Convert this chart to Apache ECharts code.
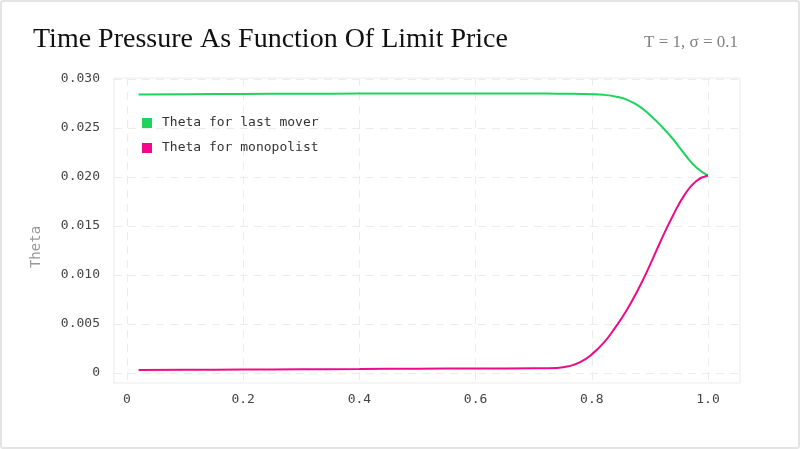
<!DOCTYPE html>
<html>
<head>
<meta charset="utf-8">
<script src="https://cdn.jsdelivr.net/npm/echarts@6/dist/echarts.min.js"></script>
<style>
    html, body { margin: 0; padding: 0; background: #fff; }
    #frame { width: 800px; height: 449px; box-sizing: border-box; border: 2px solid #e4e4e4; border-radius: 3px; }
    #chart { width: 796px; height: 445px; }
</style>
</head>
<body>
<div id="frame"><div id="chart"></div></div>
<script>
document.addEventListener('DOMContentLoaded', function() {

    // Data ------------------------------------------------------------
    const limitPrice = [0.02, 0.1, 0.2, 0.3, 0.4, 0.5, 0.6, 0.7, 0.74, 0.76, 0.78, 0.8, 0.82, 0.84, 0.86, 0.88, 0.9, 0.92, 0.94, 0.96, 0.98, 1.0];
    const thetaLastMover = [0.02842, 0.02844, 0.02847, 0.02849, 0.02851, 0.02852, 0.02852, 0.02851, 0.0285, 0.02849, 0.02847, 0.02845, 0.02838, 0.02822, 0.0279, 0.02728, 0.02633, 0.02518, 0.02385, 0.02232, 0.02097, 0.02015];
    const thetaMonopolist = [0.0003, 0.00032, 0.00035, 0.00038, 0.00041, 0.00044, 0.00046, 0.00048, 0.00052, 0.00068, 0.0011, 0.0019, 0.00305, 0.0046, 0.0064, 0.00855, 0.011, 0.01365, 0.0161, 0.0182, 0.0196, 0.02015];
    const xTicks = [0, 0.2, 0.4, 0.6, 0.8, 1.0];
    const yTicks = [0, 0.005, 0.01, 0.015, 0.02, 0.025, 0.03];

    const mono = '"DejaVu Sans Mono", monospace';
    const serif = '"Liberation Serif", serif';

    const pairs = (xs, ys) => xs.map((x, i) => [x, ys[i]]);

    const chart = echarts.init(document.getElementById('chart'));

    chart.setOption({
        animation: false,
        title: [
            {
                text: 'Time Pressure As Function Of Limit Price',
                left: 26,
                top: 19,
                textStyle: {fontFamily: serif, fontSize: 28, fontWeight: 'normal', color: '#111'}
            },
            {
                text: 'T = 1, σ = 0.1',
                right: 55,
                top: 27,
                textStyle: {fontFamily: serif, fontSize: 17, fontWeight: 'normal', color: '#808080'}
            }
        ],
        legend: {
            orient: 'vertical',
            left: 135,
            top: 109,
            icon: 'rect',
            itemWidth: 10,
            itemHeight: 10,
            itemGap: 11,
            textStyle: {fontFamily: mono, fontSize: 13, color: '#333', lineHeight: 14, padding: [0, 0, 0, 5]}
        },
        graphic: [{
            type: 'text',
            x: 34,
            y: 245,
            rotation: Math.PI / 2,
            style: {
                text: 'Theta',
                fontFamily: mono,
                fontSize: 14,
                fill: '#999',
                align: 'center',
                verticalAlign: 'middle'
            }
        }],
        grid: {
            left: 112,
            right: 58,
            top: 76,
            bottom: 64,
            show: true,
            borderColor: '#ebebeb',
            borderWidth: 1
        },
        xAxis: {
            type: 'value',
            min: -0.0224,
            max: 1.0551,
            axisLine: {show: false},
            axisTick: {show: false, customValues: xTicks},
            axisLabel: {
                customValues: xTicks,
                margin: 10,
                fontFamily: mono,
                fontSize: 13,
                color: '#444',
                formatter: (v) => v === 0 ? '0' : v.toFixed(1)
            },
            splitLine: {show: true, lineStyle: {color: '#ececec', type: [8, 6]}}
        },
        yAxis: {
            type: 'value',
            min: -0.00102,
            max: 0.0301,
            axisLine: {show: false},
            axisTick: {show: false, customValues: yTicks},
            axisLabel: {
                customValues: yTicks,
                margin: 14,
                fontFamily: mono,
                fontSize: 13,
                color: '#444',
                formatter: (v) => v === 0 ? '0' : v.toFixed(3)
            },
            splitLine: {show: true, lineStyle: {color: '#ececec', type: [8, 6]}}
        },
        series: [
            {
                name: 'Theta for last mover',
                type: 'line',
                smooth: true,
                showSymbol: false,
                lineStyle: {width: 2, color: '#1fd35e'},
                itemStyle: {color: '#1fd35e'},
                data: pairs(limitPrice, thetaLastMover)
            },
            {
                name: 'Theta for monopolist',
                type: 'line',
                smooth: true,
                showSymbol: false,
                lineStyle: {width: 2, color: '#ee0a8a'},
                itemStyle: {color: '#f5078c'},
                data: pairs(limitPrice, thetaMonopolist)
            }
        ]
    });

});
</script>
</body>
</html>
